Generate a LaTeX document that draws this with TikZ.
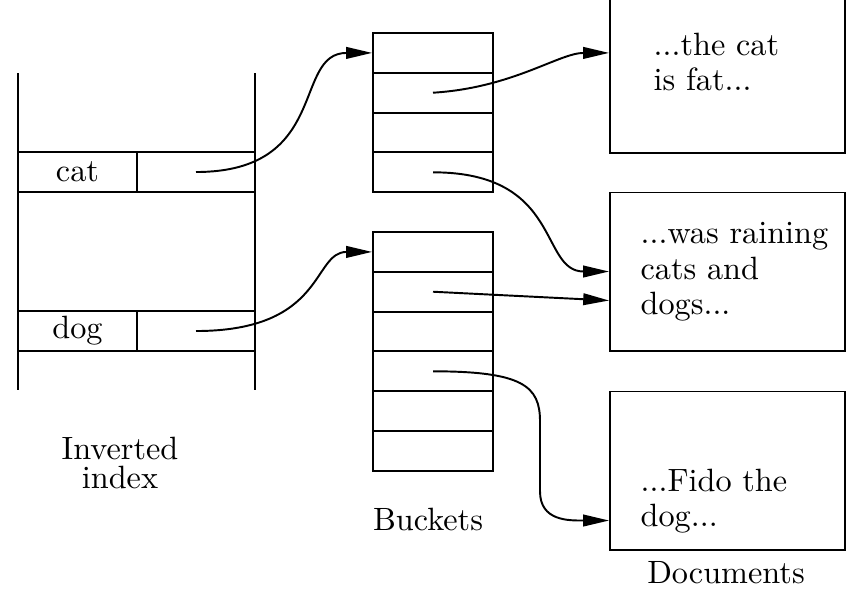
\documentclass[tikz,border=0pt]{standalone}
\usepackage{tikz}
\usetikzlibrary{arrows.meta, calc}

\begin{document}
\begin{tikzpicture}[x=0.31pt, y=-0.31pt,
  cell/.style={draw, line width=0.6pt, minimum width=36.7pt, minimum height=12.4pt, inner sep=0pt},
  bucket/.style={draw, line width=0.6pt, minimum width=37.2pt, minimum height=12.34pt, inner sep=0pt},
  doc/.style={draw, line width=0.6pt, minimum width=72.85pt, minimum height=49pt, inner sep=0pt},
  doctext/.style={anchor=north west, align=left, inner sep=0pt, font=\fontsize{10}{11}\selectfont},
  link/.style={-{Triangle[length=8pt, width=3.6pt]}, line width=0.6pt}
]
  \useasboundingbox (0,0) rectangle (853,590);

  % Inverted index
  \draw[line width=0.6pt] (18,73) -- (18,390);
  \draw[line width=0.6pt] (255,73) -- (255,390);
  \node[cell] (catkey) at (77.5,172) {cat};
  \node[cell] (catptr) at (196,172) {};
  \node[cell] (dogkey) at (77.5,331) {dog};
  \node[cell] (dogptr) at (196,331) {};
  \node[align=center, inner sep=0pt, anchor=north, font=\fontsize{10}{9.2}\selectfont] (idxlabel) at (120,436) {Inverted\\index};

  % Buckets
  \foreach \i in {1,...,4}
    \node[bucket] (b1r\i) at (433, {33+39.8*\i-19.9}) {};
  \foreach \i in {1,...,6}
    \node[bucket] (b2r\i) at (433, {232+39.8*\i-19.9}) {};
  \node[anchor=base] (bktlabel) at (428,530) {Buckets};

  % Documents
  \node[doc] (doc1) at (727.5,74) {};
  \node[doc] (doc2) at (727.5,271.5) {};
  \node[doc] (doc3) at (727.5,470.5) {};
  \node[doctext] (txt1) at (653,32) {...the cat\\is fat...};
  \node[doctext] (txt2) at (640,222) {...was raining\\cats and\\dogs...};
  \node[doctext] (txt3) at (640,468) {...Fido the\\dog...};
  \node[anchor=base] (doclabel) at (726,583) {Documents};

  % Index to buckets
  \draw[link] (catptr.center) .. controls +(135,0) and +(-80,0) .. (b1r1.west);
  \draw[link] (dogptr.center) .. controls +(130,0) and +(-60,0) .. (b2r1.west);

  % Buckets to documents
  \draw[link] (b1r2.center) .. controls +(80,-5) and +(-50,0) .. (doc1.west |- b1r1);
  \draw[link] (b1r4.center) .. controls +(130,0) and +(-70,0) .. (doc2.west);
  \draw[link] (b2r2.center) -- ($(doc2.west)+(0,29)$);
  \draw[link] (b2r4.center) .. controls +(90,0) and +(0,-35) .. ++(107,50) -- ++(0,70)
    .. controls +(0,30) and +(-40,0) .. ($(doc3.west)+(0,50)$);
\end{tikzpicture}
\end{document}
